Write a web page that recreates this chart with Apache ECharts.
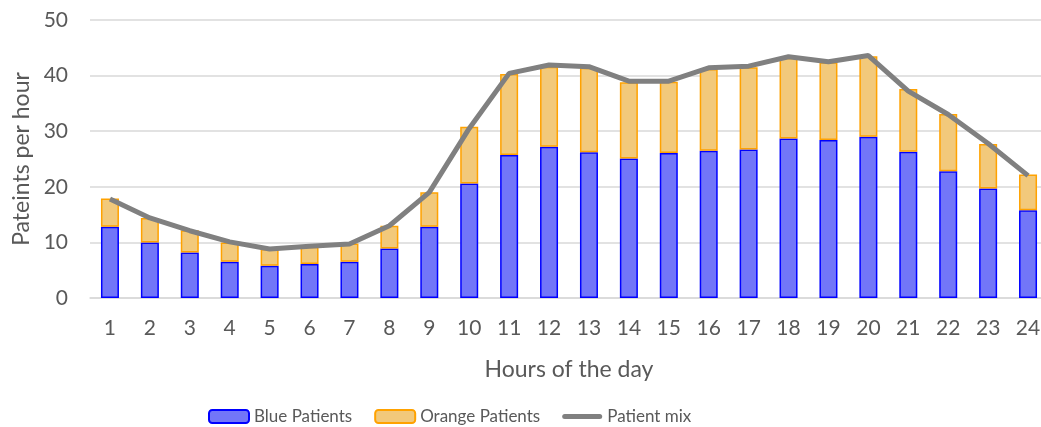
<!DOCTYPE html>
<html>
<head>
<meta charset="utf-8">
<script src="https://cdn.jsdelivr.net/npm/echarts@6/dist/echarts.min.js"></script>
<style>
html,body{margin:0;padding:0;background:#fff;}
#chart{width:1041px;height:427px;}
</style>
</head>
<body>
<div id="chart"></div>
<script>
const hours = ['1','2','3','4','5','6','7','8','9','10','11','12','13','14','15','16','17','18','19','20','21','22','23','24'];
const bluePatients = [12.8,10.0,8.2,6.5,5.8,6.1,6.5,8.9,12.8,20.6,25.7,27.2,26.2,25.1,26.1,26.5,26.7,28.7,28.4,29.0,26.3,22.8,19.7,15.8];
const orangePatients = [5.1,4.4,4.0,3.5,3.0,3.1,3.3,4.1,6.2,10.2,14.6,14.4,15.2,13.7,12.8,14.7,14.8,14.5,14.0,14.5,11.3,10.3,8.0,6.4];
const patientMix = [17.8,14.4,12.1,10.1,8.8,9.3,9.7,13.0,19.0,30.5,40.4,41.9,41.6,39.0,39.0,41.4,41.7,43.4,42.5,43.6,37.2,33.0,27.8,22.0];
const yTicks = {min:0, max:50, interval:10};

const FONT = 'Lato';
const TXT = '#595959';
const chart = echarts.init(document.getElementById('chart'), null, {renderer:'canvas'});
chart.setOption({
  animation:false,
  textStyle:{fontFamily:FONT},
  grid:{left:90, right:-7, top:20, bottom:129, containLabel:false, outerBoundsMode:'none'},
  legend:{
    top:403, left:203,
    itemWidth:40, itemHeight:13, itemGap:22,
    textStyle:{fontFamily:FONT, fontSize:17, color:TXT},
    data:[
      {name:'Blue Patients'},
      {name:'Orange Patients'},
      {name:'Patient mix', icon:'path://M2.5,0 H37.5 A2.5,2.5 0 0 1 37.5,5 H2.5 A2.5,2.5 0 0 1 2.5,0 Z', itemStyle:{color:'#808080', borderWidth:0}}
    ]
  },
  xAxis:{
    type:'category', data:hours,
    name:'Hours of the day', nameLocation:'middle', nameGap:60,
    nameTextStyle:{fontFamily:FONT, fontSize:23, color:TXT},
    axisLine:{lineStyle:{color:'#D9D9D9', width:1.5}},
    axisTick:{show:false},
    axisLabel:{fontFamily:FONT, fontSize:21, color:TXT, margin:20}
  },
  yAxis:{
    type:'value', min:yTicks.min, max:yTicks.max, interval:yTicks.interval,
    name:'Pateints per hour', nameLocation:'middle', nameGap:56,
    nameTextStyle:{fontFamily:FONT, fontSize:23, color:TXT},
    axisLine:{show:false}, axisTick:{show:false},
    axisLabel:{fontFamily:FONT, fontSize:21, color:TXT, margin:22},
    splitLine:{lineStyle:{color:'#D9D9D9', width:1.5}}
  },
  series:[
    {name:'Blue Patients', type:'bar', stack:'p', data:bluePatients, barWidth:18,
     itemStyle:{color:'#7276F8', borderColor:'#0000FF', borderWidth:1.5}},
    {name:'Orange Patients', type:'bar', stack:'p', data:orangePatients, barWidth:18,
     itemStyle:{color:'#F2C97B', borderColor:'#FFA200', borderWidth:1.5}},
    {name:'Patient mix', type:'line', data:patientMix, symbol:'none',
     lineStyle:{color:'#808080', width:5}, itemStyle:{color:'#808080'}, z:5}
  ]
});
</script>
</body>
</html>
